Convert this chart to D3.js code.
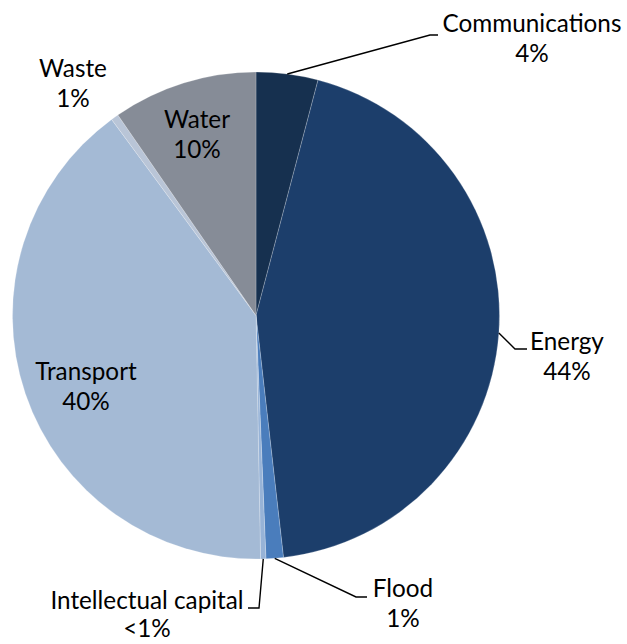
<!DOCTYPE html>
<html>
<head>
<meta charset="utf-8">
<script src="https://cdn.jsdelivr.net/npm/d3@7"></script>
<style>
  html, body { margin: 0; padding: 0; background: #fff; }
  svg { display: block; }
  text { font-family: "Lato", "Open Sans", sans-serif; fill: #000; }
</style>
</head>
<body>
<svg id="chart" width="627" height="644"></svg>
<script>
// Infrastructure investment by sector, share of total (%)
const categories = ["Communications", "Energy", "Flood", "Intellectual capital", "Transport", "Waste", "Water"];
const shares = [4.1, 44.1, 1.15, 0.35, 40.2, 0.5, 9.6];
const shareLabels = ["4%", "44%", "1%", "<1%", "40%", "1%", "10%"];
const sliceColors = ["#16304f", "#1c3e6b", "#4a7dbc", "#97b3d7", "#a4bad5", "#b9c5d7", "#868c97"];

const svg = d3.select("#chart");
const cx = 256, cy = 315.5, radius = 243.5;
const lineGap = 30;

// label placement: text centre/baseline, plus leader elbow and end for outside labels
const labelLayout = {
  "Communications":       { x: 532, y: 32,  leader: [[430, 35], [438, 35]] },
  "Energy":               { x: 567, y: 350, leader: [[515, 349], [527, 349]] },
  "Flood":                { x: 403, y: 597, leader: [[356, 597], [367, 597]] },
  "Intellectual capital": { x: 147, y: 609, gap: 28, leader: [[259, 608], [248, 608]] },
  "Transport":            { x: 86,  y: 380 },
  "Waste":                { x: 73,  y: 77 },
  "Water":                { x: 197, y: 128 }
};

const data = categories.map((c, i) => ({ category: c, value: shares[i], label: shareLabels[i] }));

const color = d3.scaleOrdinal().domain(categories).range(sliceColors);
const pie = d3.pie().sort(null).value(d => d.value);
const arc = d3.arc().innerRadius(0).outerRadius(radius);
const arcs = pie(data);

const g = svg.append("g").attr("transform", `translate(${cx},${cy})`);

g.selectAll("path.slice")
  .data(arcs)
  .enter().append("path")
  .attr("class", "slice")
  .attr("d", arc)
  .attr("fill", d => color(d.data.category))
  .attr("stroke", "rgba(255,255,255,0.35)")
  .attr("stroke-width", 0.6);

// size the label font so the longest single-word label spans its measured width
const probe = svg.append("text").attr("font-size", 20).text("Communications");
const probeW = probe.node().getComputedTextLength();
probe.remove();
const fontSize = 20 * 179 / probeW;

// leader lines from the rim at each slice's mid-angle
arcs.forEach(a => {
  const lay = labelLayout[a.data.category];
  if (!lay.leader) return;
  const mid = (a.startAngle + a.endAngle) / 2;
  const start = [cx + radius * Math.sin(mid), cy - radius * Math.cos(mid)];
  svg.append("path")
    .attr("d", d3.line()([start, ...lay.leader]))
    .attr("fill", "none")
    .attr("stroke", "#000")
    .attr("stroke-width", 1.4);
});

arcs.forEach(a => {
  const lay = labelLayout[a.data.category];
  const t = svg.append("text")
    .attr("text-anchor", "middle")
    .attr("font-size", fontSize);
  t.append("tspan").attr("x", lay.x).attr("y", lay.y).text(a.data.category);
  t.append("tspan").attr("x", lay.x).attr("y", lay.y + (lay.gap || lineGap)).text(a.data.label);
});
</script>
</body>
</html>
